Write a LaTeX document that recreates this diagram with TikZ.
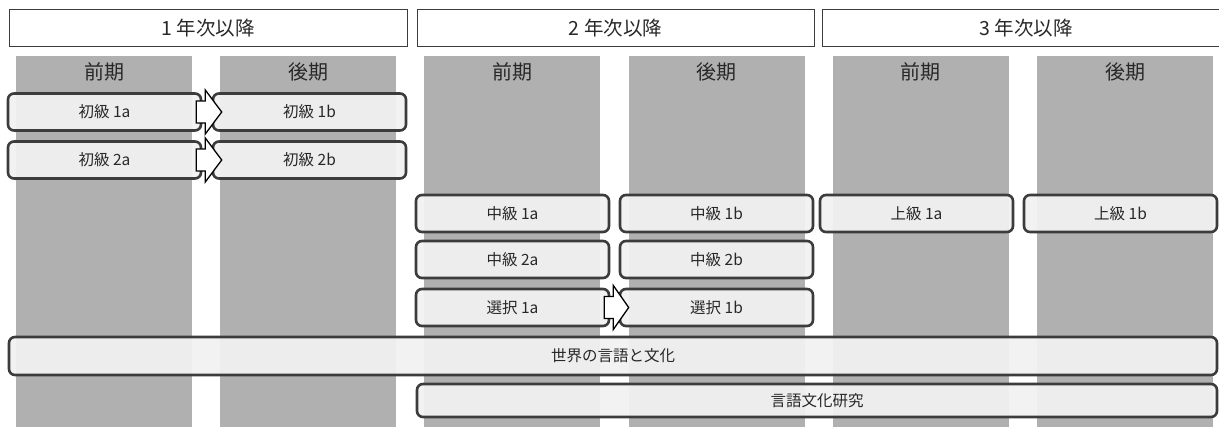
\documentclass[tikz,border=0pt]{standalone}
\usepackage{fontspec}
\setmainfont{Noto Sans CJK JP}
\usepackage{tikz}
\usetikzlibrary{calc}
\definecolor{colgray}{RGB}{176,176,176}
\definecolor{boxline}{RGB}{60,60,60}
\definecolor{boxfill}{RGB}{242,242,242}
\definecolor{txt}{RGB}{40,40,40}
\tikzset{
  hdr/.style={draw=boxline, line width=1pt, fill=white, minimum width=#1, minimum height=37pt, inner sep=0pt, font=\fontsize{19.5}{21}\selectfont, text=txt},
  term/.style={font=\fontsize{20}{22}\selectfont, text=txt},
  course/.style={draw=boxline, line width=2.6pt, rounded corners=6pt, fill=boxfill, fill opacity=0.93, text opacity=1, minimum width=#1, minimum height=37pt, inner sep=0pt, font=\fontsize{15.5}{17}\selectfont, text=txt},
  course/.default=193pt,
  fatarrow/.style={draw=black, line width=1.3pt, fill=white, line join=miter}
}
\begin{document}
\begin{tikzpicture}[x=1pt,y=-1pt]
		\clip (0,0) rectangle (1219,427);
		\fill[white] (0,0) rectangle (1219,427);

		% columns of each term
		\foreach \i/\t in {0/前期,1/後期,2/前期,3/後期,4/前期,5/後期}{
			\fill[colgray] (16+204.2*\i,56) rectangle ++(176,371);
			\node[term] (t\i) at (104+204.2*\i,72) {\t};
		}

		% year headers
		\node[hdr=398pt] (h1) at (208,28) {1 年次以降};
		\node[hdr=397pt] (h2) at (615.5,28) {2 年次以降};
		\node[hdr=408pt] (h3) at (1026,28) {3 年次以降};

		\node[course] (sho1a) at (104.5,112) {初級 1a};
		\node[course] (sho1b) at (309.5,112) {初級 1b};
		\node[course] (sho2a) at (104.5,160) {初級 2a};
		\node[course] (sho2b) at (309.5,160) {初級 2b};

		\node[course] (chu1a) at (512.5,213.5) {中級 1a};
		\node[course] (chu1b) at (716.5,213.5) {中級 1b};
		\node[course] (chu2a) at (512.5,259.5) {中級 2a};
		\node[course] (chu2b) at (716.5,259.5) {中級 2b};
		\node[course] (sen1a) at (512.5,307.5) {選択 1a};
		\node[course] (sen1b) at (716.5,307.5) {選択 1b};

		\node[course] (jo1a) at (916.5,213.5) {上級 1a};
		\node[course] (jo1b) at (1120.5,213.5) {上級 1b};

		\node[course=1208pt, minimum height=38pt] (sekai) at (613,356) {世界の言語と文化};
		\node[course=800pt, minimum height=33pt] (kenkyu) at (817,400.5) {言語文化研究};

		% block arrows a -> b
		\foreach \a/\b in {sho1a/sho1b, sho2a/sho2b, sen1a/sen1b}{
			\draw[fatarrow] ($(\a.east)+(-6,-11)$) -- ++(9,0) -- ++(0,-11) -- ($(\b.west)+(10,0)$) -- ($(\a.east)+(3,22)$) -- ++(0,-11) -- ++(-9,0) -- cycle;
		}
	\end{tikzpicture}
\end{document}
